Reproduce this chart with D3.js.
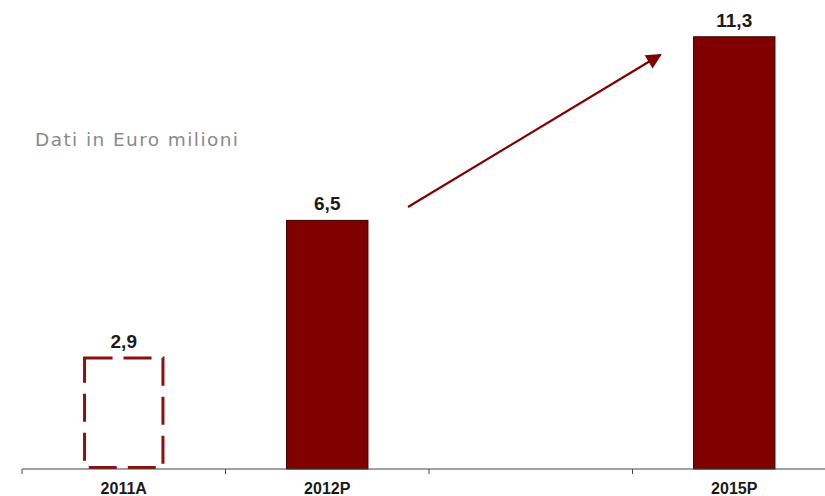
<!DOCTYPE html>
<html><head><meta charset="utf-8">
<script src="https://cdn.jsdelivr.net/npm/d3@7"></script>
<style>body{margin:0;background:#fff}svg{display:block}</style>
</head><body>
<svg id="c" width="825" height="496"></svg>
<script>
const categories = ["2011A", "2012P", "gap", "2015P"];
const tickLabels = ["2011A", "2012P", "", "2015P"];
const values = [2.9, 6.5, null, 11.3];
const valueLabels = ["2,9", "6,5", "", "11,3"];
const dashed = [true, false, false, false];
const subtitle = "Dati in Euro milioni";

const svg = d3.select("#c");
const x = d3.scaleBand().domain(categories).range([22, 836]).padding(0);
const y = d3.scaleLinear().domain([0, 12]).range([469, 10]);
const bw = x.bandwidth();
const barW = bw * 0.4;
const dark = "#800000";

svg.append("text").attr("x", 35).attr("y", 145.5)
  .attr("font-family", "DejaVu Sans, Verdana, sans-serif").attr("font-size", 18.5)
  .attr("textLength", 203).attr("lengthAdjust", "spacing")
  .attr("fill", "#8a8a8a").text(subtitle);

const data = categories.map((c, i) => ({c, v: values[i], lab: valueLabels[i], dash: dashed[i]})).filter(d => d.v != null);

svg.selectAll("rect.bar").data(data).enter().append("rect")
  .attr("x", d => x(d.c) + (bw - barW) / 2 + (d.dash ? 1.5 : 0))
  .attr("width", d => barW - (d.dash ? 3 : 0))
  .attr("y", d => y(d.v))
  .attr("height", d => y(0) - y(d.v) - (d.dash ? 1.5 : 0))
  .attr("fill", d => d.dash ? "none" : dark)
  .attr("stroke", d => d.dash ? "#8b1010" : "#3a0000")
  .attr("stroke-width", d => d.dash ? 3 : 1)
  .attr("stroke-dasharray", d => d.dash ? "28,11" : null);

svg.selectAll("text.val").data(data).enter().append("text")
  .attr("x", d => x(d.c) + bw / 2).attr("y", d => y(d.v) - 10)
  .attr("text-anchor", "middle").attr("font-family", "Liberation Sans, Arial, sans-serif")
  .attr("font-weight", "bold").attr("font-size", 19).attr("fill", "#1a1a1a").text(d => d.lab);

// axis
const ax = svg.append("g");
ax.append("line").attr("x1", 22).attr("x2", 825).attr("y1", y(0)).attr("y2", y(0))
  .attr("stroke", "#444").attr("stroke-width", 1);
const ticks = categories.map(c => x(c)).concat([x.range()[1]]);
ax.selectAll("line.t").data(ticks).enter().append("line")
  .attr("x1", d => d).attr("x2", d => d).attr("y1", y(0)).attr("y2", y(0) + 5)
  .attr("stroke", "#444");
ax.selectAll("text.l").data(categories).enter().append("text")
  .attr("x", (c) => x(c) + bw / 2).attr("y", y(0) + 25)
  .attr("text-anchor", "middle").attr("font-family", "Liberation Sans, Arial, sans-serif")
  .attr("font-weight", "bold").attr("font-size", 16).attr("fill", "#1a1a1a")
  .text((c, i) => tickLabels[i]);

// arrow annotation
svg.append("defs").append("marker").attr("id", "ah").attr("viewBox", "0 0 10 10")
  .attr("refX", 9).attr("refY", 5).attr("markerWidth", 8).attr("markerHeight", 7)
  .attr("markerUnits", "strokeWidth").attr("orient", "auto")
  .append("path").attr("d", "M0,0 L10,5 L0,10 z").attr("fill", dark);
const a0 = {x: x("gap") - 21, v: 6.85};
const a1 = {x: x("2015P") + 28, v: 10.83};
svg.append("line").attr("x1", a0.x).attr("y1", y(a0.v)).attr("x2", a1.x).attr("y2", y(a1.v))
  .attr("stroke", dark).attr("stroke-width", 2.2).attr("marker-end", "url(#ah)");
</script>
</body></html>
